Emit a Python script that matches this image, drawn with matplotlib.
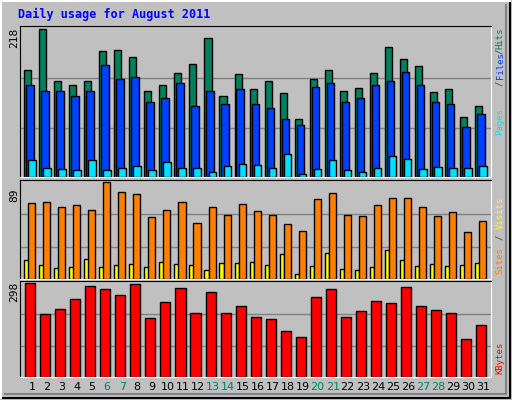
import matplotlib
matplotlib.use("Agg")
import matplotlib.pyplot as plt
import numpy as np

days = list(range(1, 32))
hits = [157, 218, 141, 136, 142, 185, 187, 176, 126, 136, 153, 166, 205, 120, 151, 129,
        142, 123, 86, 144, 157, 126, 131, 153, 191, 174, 163, 125, 129, 89, 105]
files = [136, 126, 126, 119, 126, 165, 145, 147, 111, 116, 139, 104, 126, 107, 130, 108,
         102, 86, 77, 132, 139, 111, 117, 135, 142, 154, 136, 111, 108, 73, 93]
pages = [25, 13, 12, 10, 25, 10, 13, 16, 10, 22, 13, 13, 7, 16, 19, 18,
         13, 34, 4, 12, 25, 10, 7, 13, 31, 27, 12, 15, 13, 13, 16]
visits = [70, 71, 66, 68, 63, 89, 80, 78, 57, 63, 71, 51, 66, 59, 69, 62,
          59, 50, 44, 73, 79, 59, 58, 68, 74, 74, 66, 58, 61, 43, 53]
sites = [17, 13, 10, 11, 18, 11, 13, 14, 11, 16, 14, 13, 8, 15, 15, 16,
         13, 23, 5, 12, 24, 9, 8, 11, 27, 17, 12, 14, 12, 13, 15]
kbytes = [298, 200, 216, 246, 288, 278, 259, 295, 187, 236, 282, 203, 269, 203, 226, 190,
          183, 147, 128, 252, 278, 190, 210, 242, 233, 285, 226, 213, 203, 121, 164]
weekends = [6, 7, 13, 14, 20, 21, 27, 28]

W, H = 512, 400
fig = plt.figure(figsize=(W / 100, H / 100), dpi=100)
fig.patch.set_facecolor("#C0C0C0")

def px_axes(x0, y0, x1, y1):
    return fig.add_axes([x0 / W, 1 - y1 / H, (x1 - x0) / W, (y1 - y0) / H])

# outer bevel
bg = fig.add_axes([0, 0, 1, 1])
bg.set_xlim(0, W); bg.set_ylim(H, 0); bg.axis("off")
bg.plot([1, W - 2, W - 2], [H - 2, H - 2, 1], color="black", lw=1.5)
bg.plot([5, W - 6, W - 6], [H - 6, H - 6, 5], color="#808080", lw=1.5)
bg.plot([1, 1, W - 2], [H - 2, 1, 1], color="white", lw=1.5)
bg.text(18, 14, "Daily usage for August 2011", color="#0000FF", fontsize=8.5,
        fontweight="bold", family="DejaVu Sans Mono", va="center")

mono = "DejaVu Sans Mono"

def setup(ax, top):
    ax.set_facecolor("#C0C0C0")
    ax.set_xlim(0.23, 31.56)
    ax.set_ylim(0, top * 1.02)
    ax.set_xticks([]); ax.set_yticks([])
    for y in (top / 3, 2 * top / 3):
        ax.axhline(y, color="#808080", lw=1, zorder=0)
    for s in ax.spines.values():
        s.set_color("black")
    ax.spines["bottom"].set_color("white")
    ax.spines["right"].set_color("white")

d = np.array(days)
kw = dict(edgecolor="black", linewidth=1, align="edge")

ax1 = px_axes(20, 26, 491, 177)
setup(ax1, max(hits))
ax1.bar(d - 0.5, hits, 0.47, color="#00805C", **kw)
ax1.bar(d - 0.37, files, 0.5, color="#0040FF", **kw)
ax1.bar(d - 0.23, pages, 0.5, color="#00E0FF", **kw)

ax2 = px_axes(20, 180, 491, 279)
setup(ax2, max(visits))
ax2.bar(d - 0.5, sites, 0.3, color="#FFFF00", **kw)
ax2.bar(d - 0.23, visits, 0.47, color="#FF8000", **kw)

ax3 = px_axes(20, 281, 491, 377)
setup(ax3, max(kbytes))
ax3.bar(d - 0.43, kbytes, 0.67, color="#FF0000", **kw)
for day in days:
    ax3.text(day + 0.03, -0.1, str(day), transform=ax3.get_xaxis_transform(),
             ha="center", va="center", fontsize=8,
             color="#00805C" if day in weekends else "black")

# max values on left
for y, v in [(38, max(hits)), (195, max(visits)), (292, max(kbytes))]:
    bg.text(14, y, str(v), rotation=90, ha="center", va="center", fontsize=8, family=mono)

# right side legends
def rlabel(y, s, c):
    bg.text(500, y, s, rotation=90, ha="center", va="center", fontsize=6.5, family=mono, color=c)

rlabel(38, "Hits", "#00805C")
rlabel(51, "/", "#404040")
rlabel(66, "Files", "#0040FF")
rlabel(83, "/", "#404040")
rlabel(122, "Pages", "#00E0FF")
rlabel(213, "Visits", "#FFFF00")
rlabel(237, "/", "#404040")
rlabel(261, "Sites", "#FF8000")
rlabel(358, "KBytes", "#FF0000")

fig.savefig("out.png", dpi=100, facecolor=fig.get_facecolor())
